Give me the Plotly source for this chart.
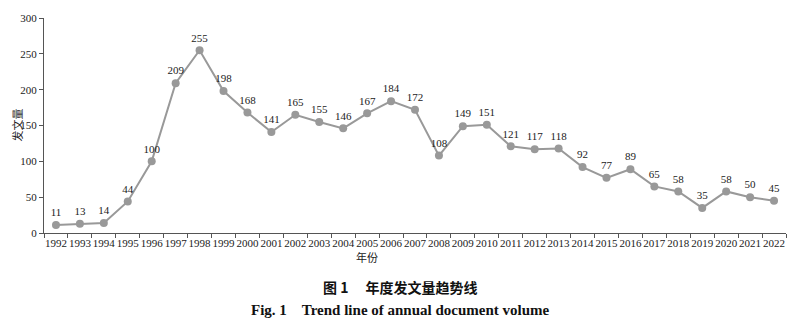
import plotly.graph_objects as go

years = [str(y) for y in range(1992, 2023)]
counts = [11, 13, 14, 44, 100, 209, 255, 198, 168, 141, 165, 155, 146, 167, 184,
          172, 108, 149, 151, 121, 117, 118, 92, 77, 89, 65, 58, 35, 58, 50, 45]
y_ticks = [0, 50, 100, 150, 200, 250, 300]

serif = "Liberation Serif, Times New Roman, serif"
cjk = "Noto Sans CJK SC"

fig = go.Figure()
fig.add_trace(go.Scatter(
    x=years, y=counts,
    mode="lines+markers+text",
    line=dict(color="#999999", width=2),
    marker=dict(color="#999999", size=8),
    text=[str(v) for v in counts],
    textposition="top center",
    textfont=dict(family=serif, size=11, color="#222222"),
    cliponaxis=False,
    showlegend=False,
))

fig.update_layout(
    width=800, height=325,
    margin=dict(l=44, r=14, t=14, b=92),
    paper_bgcolor="white", plot_bgcolor="white",
    xaxis=dict(
        type="category", range=[-0.5, 30.5],
        tickson="boundaries", ticks="outside", ticklen=4, tickcolor="#555555",
        showline=True, linecolor="#555555", linewidth=1,
        showgrid=False, zeroline=False,
        tickfont=dict(family=serif, size=11, color="#222222"),
        tickangle=0,
    ),
    yaxis=dict(
        range=[0, 300], tickvals=y_ticks,
        ticks="outside", ticklen=4, tickcolor="#555555",
        showline=True, linecolor="#555555", linewidth=1,
        showgrid=False, zeroline=False,
        tickfont=dict(family=serif, size=11, color="#222222"),
    ),
)

fig.add_annotation(text="发文量", xref="paper", yref="paper", x=-0.0377, y=0.5,
                   xanchor="center", yanchor="middle",
                   textangle=-90, showarrow=False,
                   font=dict(family=cjk, size=11, color="#222222"))
fig.add_annotation(text="年份", xref="paper", yref="paper", x=0.435, y=-0.113,
                   xanchor="center", yanchor="middle", showarrow=False,
                   font=dict(family=cjk, size=11, color="#222222"))
fig.add_annotation(text="<b>图 1\u3000 年度发文量趋势线</b>", xref="paper", yref="paper",
                   x=0.48, y=-0.251, xanchor="center", yanchor="middle",
                   showarrow=False,
                   font=dict(family=cjk, size=14, color="#111111"))
fig.add_annotation(text="<b>Fig. 1\u2003Trend line of annual document volume</b>",
                   xref="paper", yref="paper", x=0.48, y=-0.356,
                   xanchor="center", yanchor="middle", showarrow=False,
                   font=dict(family=serif, size=15, color="#111111"))

fig.write_html("out.html")
